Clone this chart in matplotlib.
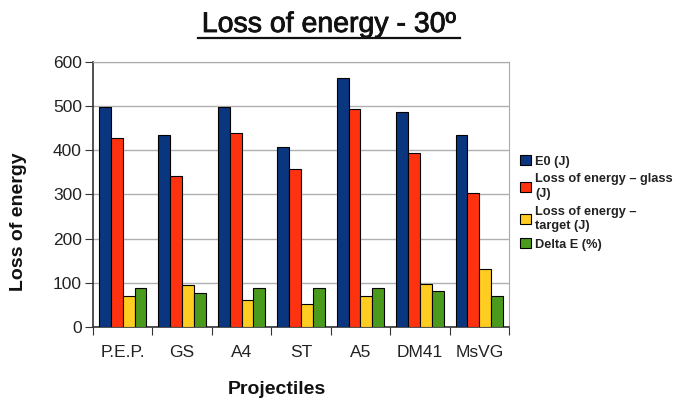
import matplotlib
matplotlib.use("Agg")
import matplotlib.pyplot as plt
import matplotlib.patheffects as pe
import numpy as np

categories = ["P.E.P.", "GS", "A4", "ST", "A5", "DM41", "MsVG"]
e0 = [498, 435, 498, 408, 564, 486, 434]
loss_glass = [427, 343, 439, 358, 494, 394, 303]
loss_target = [70, 96, 62, 51, 70, 97, 132]
delta_e = [88, 77, 88, 88, 88, 82, 70]
series_labels = ["E0 (J)", "Loss of energy \u2013 glass\n(J)", "Loss of energy \u2013\ntarget (J)", "Delta E (%)"]
colors = ["#0a3680", "#ff3210", "#ffcc22", "#4a9a1c"]

plt.rcParams['font.family'] = ['Liberation Sans', 'DejaVu Sans']

fig = plt.figure(figsize=(6.73, 4.01), dpi=100)
ax = fig.add_axes([93/673, 1-327/401, (509-93)/673, (327-62)/401])

x = np.arange(len(categories))
w = 0.2
for i, (vals, lab, c) in enumerate(zip([e0, loss_glass, loss_target, delta_e], series_labels, colors)):
    ax.bar(x - 0.3 + i*w, vals, w, color=c, edgecolor="black", linewidth=0.8, label=lab, zorder=3)

ax.set_xlim(-0.5, len(categories)-0.5)
ax.set_ylim(0, 600)
ax.set_yticks(range(0, 601, 100))
ax.yaxis.grid(True, color="#b0b0b0", linewidth=1, zorder=0)
ax.set_xticks(np.arange(len(categories)+1) - 0.5, minor=False)
ax.set_xticklabels([])
ax.set_xticks(x, minor=True)
ax.set_xticklabels(categories, minor=True)
ax.tick_params(axis='x', which='minor', length=0, pad=13, labelsize=12.5, labelcolor="#222222")
ax.tick_params(axis='x', which='major', length=6, direction='out', color="#333333")
ax.tick_params(axis='y', length=6, direction='out', labelsize=12.5, labelcolor="#222222", color="#333333", pad=2)

for s in ["top", "right"]:
    ax.spines[s].set_color("#aaaaaa")
for s in ["left", "bottom"]:
    ax.spines[s].set_color("#333333")
    ax.spines[s].set_linewidth(1.2)

fig.text(19/673, 1-222/401, "Loss of energy", fontsize=14, fontweight="bold",
         rotation=90, ha="center", va="center", color="#111111")
fig.text(277/673, 1-390/401, "Projectiles", fontsize=14, fontweight="bold",
         ha="center", va="center", color="#111111")

fig.text(329/673, 1-32/401, "Loss of energy - 30º", fontsize=20.5, ha="center", va="baseline", color="#111111",
         path_effects=[pe.withStroke(linewidth=0.6, foreground="#111111")])
fig.add_artist(plt.Line2D([198/673, 460/673], [1-37.5/401, 1-37.5/401], color="#111111", linewidth=1.6))

leg = fig.legend(loc="upper left", bbox_to_anchor=(520/673, 1-155/401), frameon=False,
                 fontsize=9.2, handlelength=0.85, handleheight=0.85, handletextpad=0.35,
                 labelspacing=0.45, borderaxespad=0, borderpad=0)
for txt in leg.get_texts():
    txt.set_fontweight("bold")
    txt.set_color("#222222")
    txt.set_linespacing(1.3)

fig.savefig("out.png", dpi=100)
